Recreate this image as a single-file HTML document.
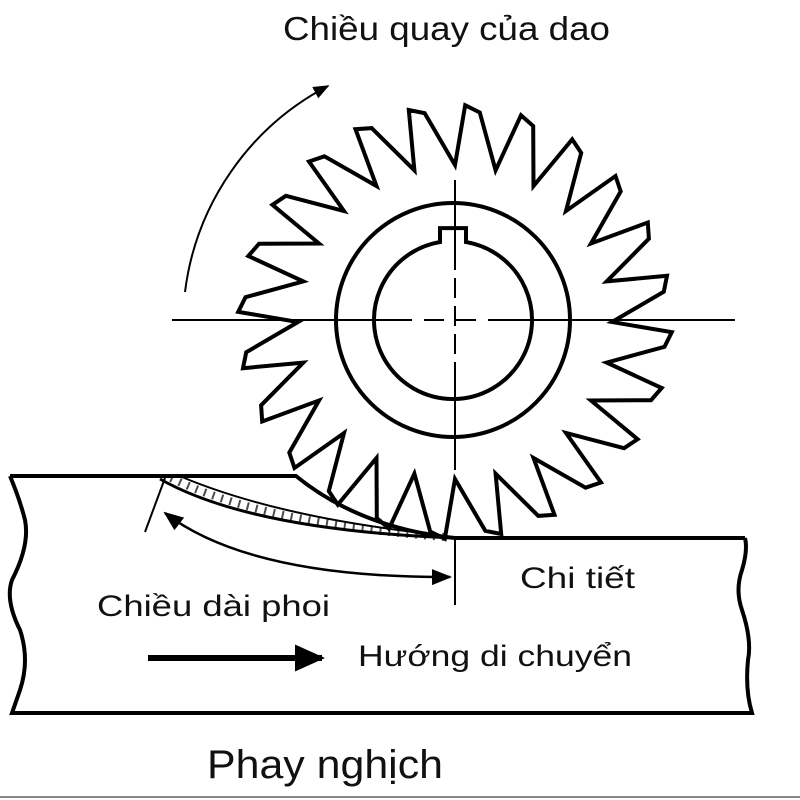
<!DOCTYPE html>
<html><head><meta charset="utf-8"><style>
html,body{margin:0;padding:0;background:#fff;}
svg{display:block}
text{font-family:"Liberation Sans",sans-serif;fill:#111}
</style></head><body>
<svg id="s" width="800" height="800" viewBox="0 0 800 800" xmlns="http://www.w3.org/2000/svg">
<rect width="800" height="800" fill="#fff"/>
<defs>
<marker id="ah" viewBox="0 0 10 10" refX="9" refY="5" markerWidth="8" markerHeight="8" orient="auto-start-reverse"><path d="M0,1 L10,5 L0,9 z" fill="#000"/></marker>
<marker id="ah2" viewBox="0 0 10 10" refX="9" refY="5" markerWidth="5" markerHeight="5" orient="auto-start-reverse"><path d="M0,0.5 L10,5 L0,9.5 z" fill="#000"/></marker>
</defs>
<path d="M185,292 A270,270 0 0 1 328,86" fill="none" stroke="#000" stroke-width="2" marker-end="url(#ah)"/>
<path id="teeth" d="" fill="#fff" stroke="#000" stroke-width="4" stroke-linejoin="miter"/>
<circle cx="453" cy="320" r="117" fill="none" stroke="#000" stroke-width="4"/>
<path id="bore" d="" fill="none" stroke="#000" stroke-width="4"/>
<line x1="172" y1="320" x2="735" y2="320" stroke="#000" stroke-width="2" stroke-dasharray="240,12,20,12,20,12,400"/>
<line x1="455" y1="180" x2="455" y2="470" stroke="#000" stroke-width="2" stroke-dasharray="90,8,20,8,20,8,20,8,200"/>
<line x1="455" y1="537" x2="455" y2="605" stroke="#000" stroke-width="2"/>
<path d="M10,476 L296,476 Q360,528 455,538 L745,538" fill="none" stroke="#000" stroke-width="4"/>
<path d="M10,476 Q20,500 25,520 Q30,545 12,580 Q5,600 20,630 Q30,660 20,690 L12,713 L752,713 Q745,690 748,660 Q752,640 742,610 Q735,590 742,570 Q748,550 745,538" fill="none" stroke="#000" stroke-width="4"/>
<path d="M160,479 Q250,530 455,538" fill="none" stroke="#000" stroke-width="3"/>
<path d="M182,477 Q280,518 440,535" fill="none" stroke="#000" stroke-width="2"/>
<path d="M171,478 Q265,524 445,537" fill="none" stroke="#000" stroke-width="8" stroke-dasharray="2,7" opacity="0.7"/>
<line x1="165" y1="478" x2="145" y2="532" stroke="#000" stroke-width="2"/>
<path d="M165,513 Q250,578 450,577" fill="none" stroke="#000" stroke-width="2.5" marker-start="url(#ah)" marker-end="url(#ah)"/>
<line x1="148" y1="658" x2="322" y2="658" stroke="#000" stroke-width="6" marker-end="url(#ah2)"/>
<text x="283" y="40" font-size="33" textLength="327" lengthAdjust="spacingAndGlyphs">Chiều quay của dao</text>
<text x="520" y="588" font-size="30" textLength="115" lengthAdjust="spacingAndGlyphs">Chi tiết</text>
<text x="97" y="616" font-size="30" textLength="233" lengthAdjust="spacingAndGlyphs">Chiều dài phoi</text>
<text x="358" y="666" font-size="30" textLength="274" lengthAdjust="spacingAndGlyphs">Hướng di chuyển</text>
<text x="207" y="778" font-size="40" textLength="236" lengthAdjust="spacingAndGlyphs">Phay nghịch</text>
<line x1="0" y1="797" x2="800" y2="797" stroke="#888" stroke-width="2"/>
</svg>
<script>
var cx=455,cy=322,N=24,r1=157,r2=217,d="";
for(var i=0;i<N;i++){
 var a=i*2*Math.PI/N, st=2*Math.PI/N;
 var p=[[r1,a],[r2,a+st*0.18],[r2-6,a+st*0.45]];
 p.forEach(function(q,j){var x=cx+q[0]*Math.sin(q[1]),y=cy-q[0]*Math.cos(q[1]);d+=(i==0&&j==0?"M":"L")+x.toFixed(1)+","+y.toFixed(1);});
}
document.getElementById("teeth").setAttribute("d",d+"Z");
var R=79,bx=453,by=320,hw=13,kh=14;
var ang=Math.asin(hw/R);
var sx=bx+R*Math.sin(ang),sy=by-R*Math.cos(ang);
var ex=bx-R*Math.sin(ang);
var b="M"+sx+","+sy+" A"+R+","+R+" 0 1 1 "+ex+","+sy+" L"+ex+","+(sy-kh)+" L"+sx+","+(sy-kh)+" Z";
document.getElementById("bore").setAttribute("d",b);
</script>
</body></html>
